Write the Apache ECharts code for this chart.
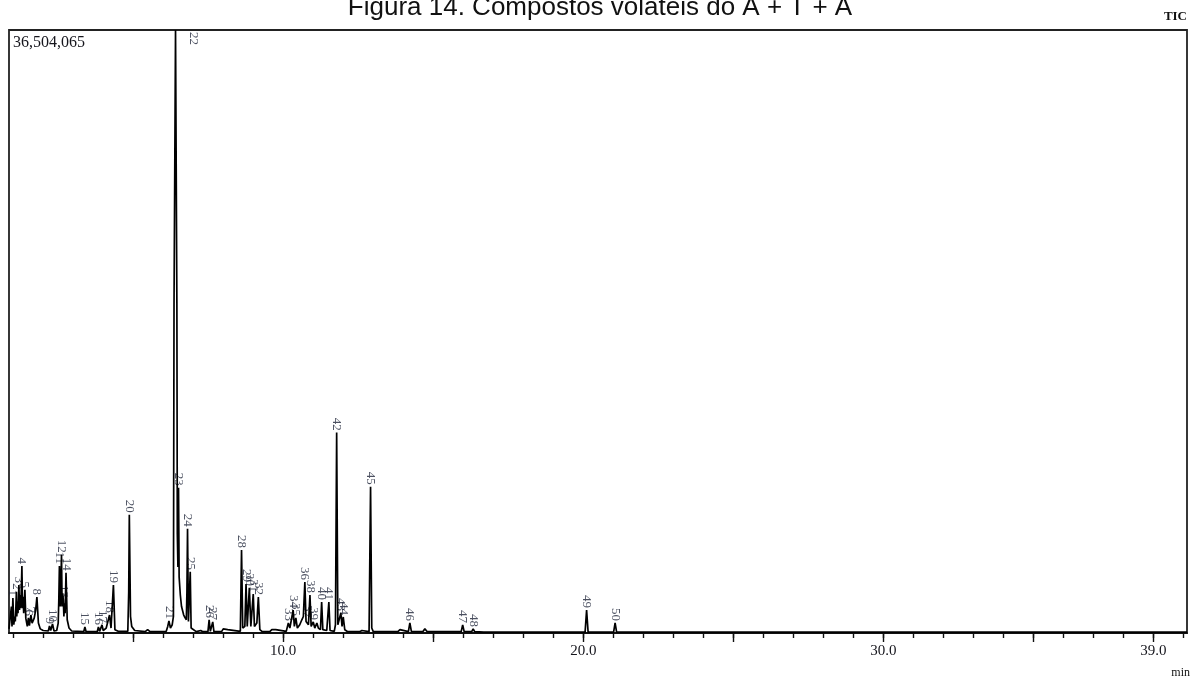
<!DOCTYPE html>
<html>
<head>
<meta charset="utf-8">
<title>Figura 14</title>
<script src="https://cdn.jsdelivr.net/npm/echarts@6.0.0/dist/echarts.min.js"></script>
<style>
html, body { margin: 0; padding: 0; background: #fff; }
#chart { width: 1191px; height: 678px; }
</style>
</head>
<body>
<div id="chart"></div>
<script>
// TIC trace, [min, intensity in millions of counts]
var trace = [
	[0.86, 0.25], [0.9, 0.3], [0.94, 1.6], [0.96, 0.4], [0.99, 2.12], [1.02, 0.5],
	[1.05, 1.0], [1.07, 0.7], [1.09, 1.6], [1.107, 2.49], [1.12, 1.0], [1.14, 1.9],
	[1.16, 1.2], [1.19, 2.91], [1.21, 1.4], [1.23, 2.3], [1.25, 1.5], [1.27, 2.6],
	[1.29, 4.06], [1.31, 1.5], [1.33, 2.2], [1.35, 1.2], [1.37, 1.8], [1.39, 2.61],
	[1.42, 0.9], [1.45, 0.6], [1.47, 0.4], [1.507, 0.91], [1.54, 0.45], [1.59, 1.09],
	[1.63, 0.6], [1.7, 0.9], [1.75, 1.4], [1.79, 2.18], [1.84, 0.6], [1.9, 0.25],
	[2.0, 0.15], [2.17, 0.12], [2.21, 0.42], [2.25, 0.15], [2.31, 0.55], [2.36, 0.12],
	[2.45, 0.15], [2.5, 0.6], [2.52, 2.0], [2.54, 4.06], [2.57, 1.6], [2.59, 3.0],
	[2.61, 4.73], [2.63, 1.6], [2.65, 2.4], [2.67, 2.0], [2.69, 1.0], [2.71, 1.8],
	[2.73, 1.2], [2.76, 3.64], [2.8, 0.8], [2.86, 0.3], [2.95, 0.12], [3.35, 0.08],
	[3.39, 0.36], [3.43, 0.08], [3.8, 0.08], [3.84, 0.36], [3.88, 0.1], [3.96, 0.49],
	[4.0, 0.15], [4.1, 0.3], [4.21, 1.09], [4.26, 0.3], [4.34, 2.91], [4.39, 0.2],
	[4.5, 0.1], [4.82, 0.1], [4.85, 2.5], [4.87, 7.16], [4.91, 1.0], [4.95, 0.4],
	[5.05, 0.15], [5.4, 0.08], [5.48, 0.2], [5.56, 0.08], [6.1, 0.1], [6.15, 0.4],
	[6.19, 0.73], [6.24, 0.3], [6.3, 0.5], [6.34, 1.0], [6.36, 20], [6.41, 36.5],
	[6.455, 20], [6.47, 6], [6.49, 4], [6.51, 8.79], [6.53, 3.4], [6.57, 2.3],
	[6.61, 1.6], [6.68, 1.1], [6.72, 0.95], [6.77, 0.8], [6.79, 2.5], [6.81, 6.31],
	[6.84, 0.7], [6.87, 0.8], [6.9, 3.7], [6.93, 0.3], [6.97, 0.18], [7.1, 0.08],
	[7.25, 0.15], [7.32, 0.08], [7.49, 0.08], [7.53, 0.79], [7.57, 0.1], [7.65, 0.67],
	[7.69, 0.08], [7.95, 0.1], [8.0, 0.25], [8.15, 0.2], [8.2, 0.08], [8.57, 0.1],
	[8.61, 5.03], [8.65, 0.3], [8.72, 0.4], [8.76, 2.97], [8.8, 0.4], [8.87, 2.73],
	[8.92, 0.4], [8.96, 0.5], [9.0, 2.36], [9.04, 0.4], [9.12, 0.6], [9.17, 2.18],
	[9.22, 0.2], [9.3, 0.08], [9.55, 0.08], [9.62, 0.2], [9.68, 0.08], [9.75, 0.2],
	[9.8, 0.08], [10.1, 0.1], [10.17, 0.61], [10.22, 0.3], [10.28, 0.4], [10.33, 1.39],
	[10.37, 0.4], [10.42, 0.91], [10.47, 0.3], [10.55, 0.5], [10.62, 0.8], [10.67, 1.0],
	[10.72, 3.09], [10.76, 0.7], [10.8, 0.79], [10.84, 0.5], [10.89, 2.3], [10.93, 0.4],
	[11.0, 0.67], [11.05, 0.3], [11.12, 0.6], [11.17, 0.3], [11.24, 0.2], [11.28, 1.88],
	[11.32, 0.2], [11.45, 0.15], [11.52, 1.88], [11.56, 0.15], [11.7, 0.1], [11.74, 0.5],
	[11.78, 12.13], [11.82, 0.5], [11.87, 0.4], [11.92, 1.21], [11.96, 0.4], [12.0, 0.97],
	[12.05, 0.2], [12.15, 0.08], [12.45, 0.08], [12.5, 0.18], [12.55, 0.08], [12.62, 0.15],
	[12.67, 0.08], [12.86, 0.08], [12.91, 8.85], [12.95, 0.3], [13.0, 0.08], [13.82, 0.08],
	[13.89, 0.2], [13.95, 0.08], [14.17, 0.08], [14.22, 0.61], [14.27, 0.1], [14.65, 0.08],
	[14.72, 0.25], [14.8, 0.08], [15.93, 0.08], [15.98, 0.49], [16.03, 0.08], [16.28, 0.08],
	[16.33, 0.24], [16.38, 0.08], [16.68, 0.05], [16.72, 0.12], [16.77, 0.05], [17.0, 0.05],
	[17.05, 0.1], [17.1, 0.05], [17.44, 0.05], [17.49, 0.12], [17.55, 0.05], [18.6, 0.05],
	[18.65, 0.12], [18.7, 0.05], [20.06, 0.05], [20.11, 1.39], [20.16, 0.05], [20.3, 0.05],
	[20.34, 0.12], [20.38, 0.05], [21.01, 0.05], [21.06, 0.61], [21.11, 0.05], [23.65, 0.05],
	[23.7, 0.1], [23.75, 0.05], [25.55, 0.05], [25.6, 0.12], [25.65, 0.05], [40.12, 0.05]
];

// numbered peaks
var peakNo = [];
for (var n = 1; n <= 50; n++) {
	peakNo.push(n);
}
var peakTime = [0.99, 1.107, 1.19, 1.29, 1.39, 1.507, 1.59, 1.79, 2.21, 2.31,
	2.54, 2.61, 2.67, 2.76, 3.39, 3.84, 3.96, 4.21, 4.34, 4.87,
	6.19, 6.41, 6.51, 6.81, 6.90, 7.53, 7.65, 8.61, 8.76, 8.87,
	9.00, 9.17, 10.17, 10.33, 10.42, 10.72, 10.80, 10.89, 11.00, 11.28,
	11.52, 11.78, 11.92, 12.00, 12.91, 14.22, 15.98, 16.33, 20.11, 21.06];
var peakHeight = [2.12, 2.49, 2.91, 4.06, 2.61, 0.91, 1.09, 2.18, 0.42, 0.55,
	4.06, 4.73, 2.00, 3.64, 0.36, 0.36, 0.49, 1.09, 2.91, 7.16,
	0.73, 36.5, 8.79, 6.31, 3.70, 0.79, 0.67, 5.03, 2.97, 2.73,
	2.36, 2.18, 0.61, 1.39, 0.91, 3.09, 0.79, 2.30, 0.67, 1.88,
	1.88, 12.13, 1.21, 0.97, 8.85, 0.61, 0.49, 0.24, 1.39, 0.61];

var timeMin = 0.86;
var timeMax = 40.12;
var yMax = 36.504065;
var yMaxLabel = '36,504,065';

var minorTicks = [];
for (var m = 1; m <= 40; m++) {
	minorTicks.push(m);
}
var majorTicks = [5, 10, 15, 20, 25, 30, 35, 39];
var tickLabels = [10, 20, 30, 39];

var peakData = [];
for (var i = 0; i < peakNo.length; i++) {
	var item = {
		value : [ peakTime[i], peakHeight[i] ],
		name : String(peakNo[i])
	};
	if (peakNo[i] == 22) { // off-scale peak, label hangs under the frame
		// offset is in the rotated frame: x goes down, y goes left
		item.label = {
			offset : [ 17, -18 ]
		};
	}
	peakData.push(item);
}

var serif = '"Liberation Serif", "DejaVu Serif", serif';

var chart = echarts.init(document.getElementById('chart'));

chart.setOption({
	animation : false,
	backgroundColor : '#fff',
	grid : {
		left : 9,
		right : 4,
		top : 30,
		bottom : 45,
		show : true,
		borderColor : '#222',
		borderWidth : 1.8
	},
	graphic : [ {
		type : 'text',
		x : 600,
		y : 8,
		style : {
			text : 'Figura 14. Compostos voláteis do A + T + A',
			fill : '#111',
			font : '26px "Liberation Sans", Arial, sans-serif',
			align : 'center',
			verticalAlign : 'middle'
		}
	}, {
		type : 'text',
		x : 13,
		y : 35,
		style : {
			text : yMaxLabel,
			fill : '#15151c',
			font : '16px ' + serif,
			align : 'left',
			verticalAlign : 'top'
		}
	}, {
		type : 'text',
		x : 1187,
		y : 10,
		style : {
			text : 'TIC',
			fill : '#111',
			font : 'bold 13px ' + serif,
			align : 'right',
			verticalAlign : 'top'
		}
	}, {
		type : 'text',
		x : 1190,
		y : 667,
		style : {
			text : 'min',
			fill : '#111',
			font : '12px ' + serif,
			align : 'right',
			verticalAlign : 'top'
		}
	} ],
	xAxis : [ {
		type : 'value',
		min : timeMin,
		max : timeMax,
		splitLine : { show : false },
		axisLine : {
			onZero : false,
			lineStyle : { color : '#111', width : 1.8 }
		},
		axisTick : {
			customValues : minorTicks,
			length : 5,
			lineStyle : { color : '#111', width : 1.4 }
		},
		axisLabel : {
			customValues : tickLabels,
			margin : 11,
			color : '#15151c',
			fontFamily : serif,
			fontSize : 15,
			formatter : function(v) {
				return v.toFixed(1);
			}
		}
	}, {
		type : 'value',
		position : 'bottom',
		min : timeMin,
		max : timeMax,
		splitLine : { show : false },
		axisLine : { show : false },
		axisTick : {
			customValues : majorTicks,
			length : 9,
			lineStyle : { color : '#111', width : 1.4 }
		},
		axisLabel : { show : false }
	} ],
	yAxis : {
		type : 'value',
		min : 0,
		max : yMax,
		show : false
	},
	series : [ {
		type : 'line',
		data : trace,
		symbol : 'none',
		clip : true,
		lineStyle : { color : '#000', width : 1.7 }
	}, {
		type : 'scatter',
		data : peakData,
		symbolSize : 0,
		label : {
			show : true,
			position : 'top',
			distance : 2,
			rotate : -90,
			align : 'right',
			verticalAlign : 'middle',
			formatter : '{b}',
			color : '#1e2438',
			fontFamily : serif,
			fontSize : 13
		}
	} ]
});
</script>
</body>
</html>
